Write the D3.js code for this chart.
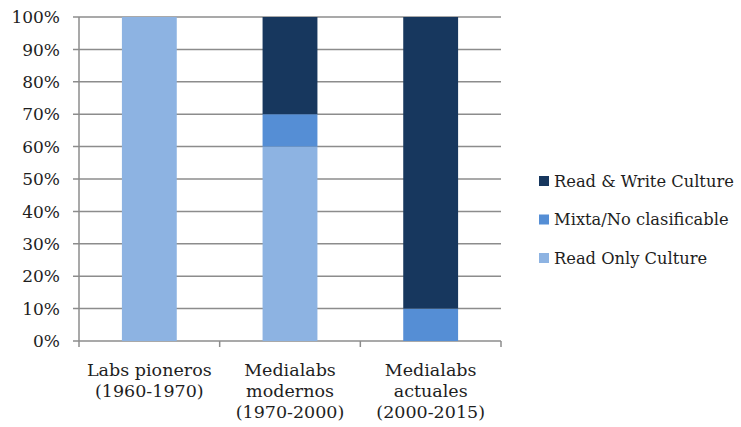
<!DOCTYPE html>
<html>
<head>
<meta charset="utf-8">
<script src="https://cdn.jsdelivr.net/npm/d3@7"></script>
<style>
  html, body { margin: 0; padding: 0; background: #fff; }
  svg text { font-family: "DejaVu Serif", "Liberation Serif", serif; fill: #1e1e1e; }
</style>
</head>
<body>
<svg id="chart" width="741" height="427"></svg>
<script>
// Categories (each label split into its drawn lines)
const categories = [
  ["Labs pioneros", "(1960-1970)"],
  ["Medialabs", "modernos", "(1970-2000)"],
  ["Medialabs", "actuales", "(2000-2015)"]
];
// Stacked series, bottom to top (percent of each column)
const seriesNames = ["Read Only Culture", "Mixta/No clasificable", "Read & Write Culture"];
const readOnly  = [100, 60, 0];
const mixta     = [0, 10, 10];
const readWrite = [0, 30, 90];
const seriesColors = ["#8db3e2", "#558ed5", "#17375e"];
const yTicks = [0, 10, 20, 30, 40, 50, 60, 70, 80, 90, 100];

const svg = d3.select("#chart");
const margin = { left: 79, right: 240, top: 17, bottom: 86 };
const W = 741, H = 427;

const x = d3.scaleBand()
  .domain(d3.range(categories.length))
  .range([margin.left, W - margin.right])
  .padding(0);
const y = d3.scaleLinear().domain([0, 100]).range([H - margin.bottom, margin.top]);

const rows = categories.map((c, i) => ({
  i, "Read Only Culture": readOnly[i], "Mixta/No clasificable": mixta[i], "Read & Write Culture": readWrite[i]
}));
const stacked = d3.stack().keys(seriesNames)(rows);

// Horizontal gridlines
svg.append("g")
  .selectAll("line")
  .data(yTicks)
  .join("line")
  .attr("x1", margin.left - 6)
  .attr("x2", W - margin.right)
  .attr("y1", d => y(d))
  .attr("y2", d => y(d))
  .attr("stroke", "#8c8c8c")
  .attr("stroke-width", 1.5);

// Y tick labels
svg.append("g")
  .selectAll("text")
  .data(yTicks)
  .join("text")
  .attr("x", margin.left - 19)
  .attr("y", d => y(d))
  .attr("dy", "0.36em")
  .attr("text-anchor", "end")
  .attr("font-size", 17)
  .text(d => d + "%");

// Bars
const barW = x.bandwidth() * 0.39;
svg.append("g")
  .selectAll("g")
  .data(stacked)
  .join("g")
  .attr("fill", (d, k) => seriesColors[k])
  .selectAll("rect")
  .data(d => d.filter(s => s[1] - s[0] > 0))
  .join("rect")
  .attr("x", d => x(d.data.i) + (x.bandwidth() - barW) / 2)
  .attr("width", barW)
  .attr("y", d => y(d[1]))
  .attr("height", d => y(d[0]) - y(d[1]));

// Axis lines
svg.append("line")
  .attr("x1", margin.left).attr("x2", margin.left)
  .attr("y1", y(100)).attr("y2", y(0))
  .attr("stroke", "#8c8c8c").attr("stroke-width", 1.5);

const xBounds = d3.range(categories.length + 1).map(i => margin.left + i * x.step());
svg.append("g")
  .selectAll("line")
  .data(xBounds)
  .join("line")
  .attr("x1", d => d).attr("x2", d => d)
  .attr("y1", y(0)).attr("y2", y(0) + 6)
  .attr("stroke", "#8c8c8c").attr("stroke-width", 1.5);

// Category labels
const catG = svg.append("g")
  .selectAll("text")
  .data(categories)
  .join("text")
  .attr("text-anchor", "middle")
  .attr("font-size", 17.5)
  .attr("x", (d, i) => x(i) + x.bandwidth() / 2)
  .attr("y", y(0) + 35);
catG.selectAll("tspan")
  .data(d => d)
  .join("tspan")
  .attr("x", function () { return d3.select(this.parentNode).attr("x"); })
  .attr("dy", (d, j) => j === 0 ? 0 : 21)
  .text(d => d);

// Legend (top to bottom: reverse of the stack order)
const legendItems = seriesNames.map((n, k) => ({ n, c: seriesColors[k] })).reverse();
const leg = svg.append("g")
  .selectAll("g")
  .data(legendItems)
  .join("g")
  .attr("transform", (d, k) => `translate(539, ${181 + k * 38.5})`);
leg.append("rect")
  .attr("x", 0).attr("y", -5).attr("width", 10).attr("height", 10)
  .attr("fill", d => d.c);
leg.append("text")
  .attr("x", 15).attr("y", 0).attr("dy", "0.36em")
  .attr("font-size", 16.3)
  .text(d => d.n);
</script>
</body>
</html>
